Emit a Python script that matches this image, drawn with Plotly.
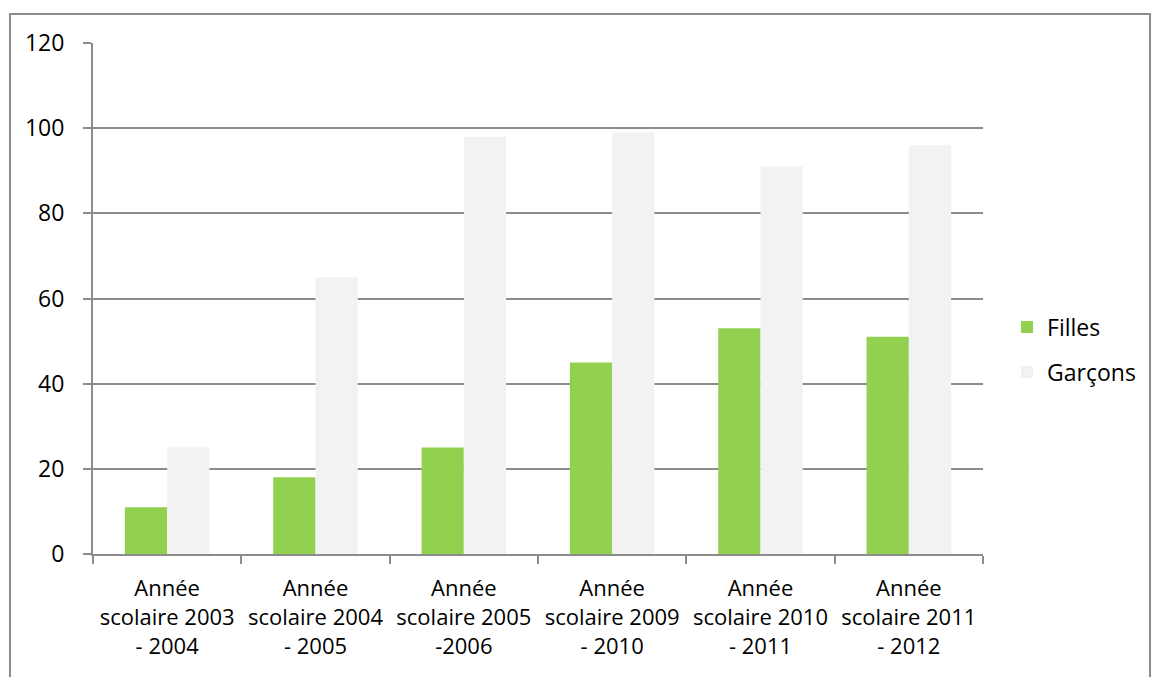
import plotly.graph_objects as go

categories = [
    "Année<br>scolaire 2003<br>- 2004",
    "Année<br>scolaire 2004<br>- 2005",
    "Année<br>scolaire 2005<br>-2006",
    "Année<br>scolaire 2009<br>- 2010",
    "Année<br>scolaire 2010<br>- 2011",
    "Année<br>scolaire 2011<br>- 2012",
]
filles = [11, 18, 25, 45, 53, 51]
garcons = [25, 65, 98, 99, 91, 96]
y_ticks = [0, 20, 40, 60, 80, 100, 120]

FONT = "Open Sans"
GRID = "#8C8C8C"

fig = go.Figure()
fig.add_trace(go.Bar(x=categories, y=filles, name="Filles", marker_color="#92D050",
                     marker_line_width=0, legendgroup="f"))
fig.add_trace(go.Bar(x=categories, y=garcons, name="Garçons", marker_color="#F2F2F2",
                     marker_line_width=0, legendgroup="g"))

fig.update_layout(
    width=1151, height=677,
    margin=dict(l=93, r=168, t=43, b=123, autoexpand=False),
    paper_bgcolor="white", plot_bgcolor="white",
    barmode="group", bargap=0.43, bargroupgap=0,
    font=dict(family=FONT, size=23, color="#000000"),
    legend=dict(x=1.027, y=0.40, xanchor="left", yanchor="middle",
                font=dict(size=23), tracegroupgap=12, bgcolor="rgba(0,0,0,0)"),
    xaxis=dict(showline=True, linecolor=GRID, linewidth=2, ticks="outside",
               tickson="boundaries", ticklen=8, tickcolor=GRID, tickwidth=2,
               showgrid=False, tickfont=dict(size=22), ticklabelstandoff=14,
               tickangle=0),
    yaxis=dict(range=[0, 120], tickvals=y_ticks, showline=True, linecolor=GRID,
               linewidth=2, ticks="outside", ticklen=8, tickcolor=GRID, tickwidth=2,
               showgrid=True, gridcolor=GRID, gridwidth=2, zeroline=False,
               ticklabelstandoff=14, tickfont=dict(size=23)),
    shapes=[dict(type="rect", xref="paper", yref="paper",
                 x0=(10 - 93) / 890, x1=(1150 - 93) / 890,
                 y0=-(720 - 554) / 511, y1=1 + (43 - 14) / 511,
                 line=dict(color=GRID, width=2), layer="below")],
)

fig.write_html("out.html")
